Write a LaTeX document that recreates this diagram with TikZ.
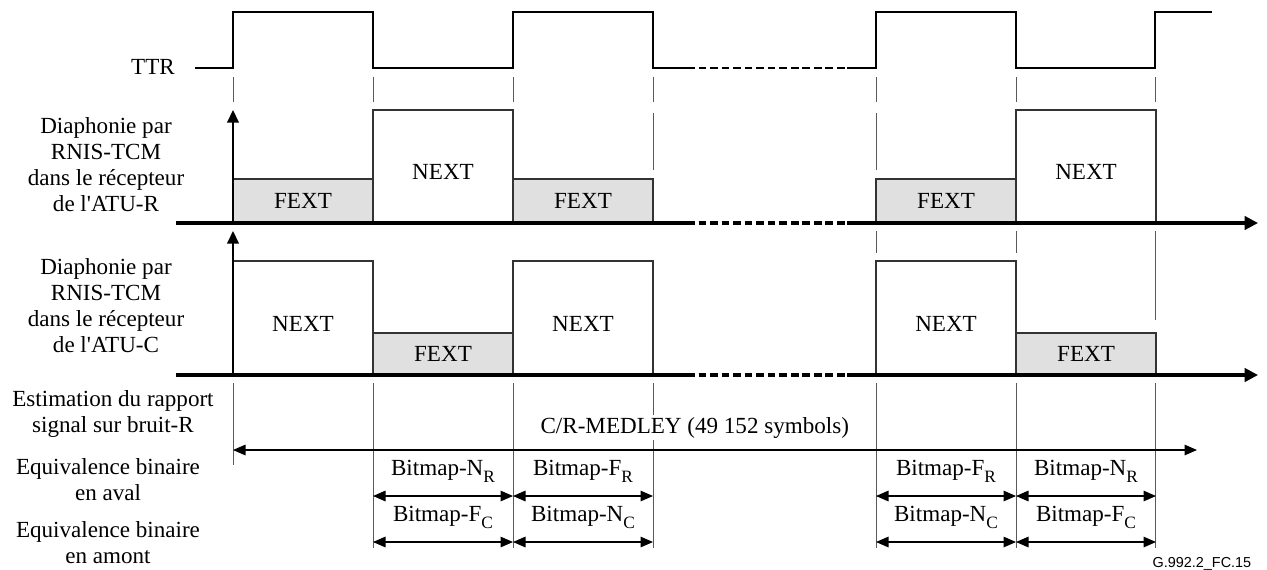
\documentclass[tikz,border=0pt]{standalone}
\usepackage{fontspec}
\setmainfont{Liberation Serif}
\newfontfamily\figidfont{Liberation Sans}
\usetikzlibrary{arrows.meta, positioning, calc}
\newlength{\px}
\setlength{\px}{0.52pt}
\newcommand{\bmsub}[1]{\raisebox{-3.5pt}{\fontsize{9pt}{9pt}\selectfont #1}}

\begin{document}
\begin{tikzpicture}[
		x=\px, y=-\px,
		every node/.style={font=\fontsize{12pt}{13.5pt}\selectfont},
		sidelabel/.style={align=center},
		fextbox/.style={draw=black!80, fill=black!12, line width=0.6pt, anchor=south west, inner sep=0pt, outer sep=0pt, minimum width=140\px, minimum height=44\px},
		nextbox/.style={draw=black!80, fill=white, line width=0.6pt, anchor=south west, inner sep=0pt, outer sep=0pt, minimum width=140\px, minimum height=114\px, text height=14pt, text depth=0pt},
		signal/.style={line width=0.75pt},
		axis/.style={line width=1.6pt},
		gap/.style={dash pattern=on 4pt off 2pt},
		guide/.style={black!65, line width=0.5pt},
		yarrow/.style={-{Triangle[length=6.5pt, width=6pt]}, line width=1pt},
		span/.style={{Triangle[length=6.5pt, width=5.5pt]}-{Triangle[length=6.5pt, width=5.5pt]}, line width=0.6pt},
		bmlabel/.style={midway, anchor=base, yshift=10.5pt}
		]
		\useasboundingbox (0,0) rectangle (1267,569);
		
		% Guides
		\draw[guide] (233,77) -- (233,102) (373,77) -- (373,102) (513,77) -- (513,102) (653,77) -- (653,102)
		(876,77) -- (876,102) (1016,77) -- (1016,102) (1155,77) -- (1155,102);
		\draw[guide] (653,113) -- (653,170) (876,113) -- (876,170);
		\draw[guide] (876,231) -- (876,253) (1016,231) -- (1016,253) (1155,231) -- (1155,320);
		\draw[guide] (233,383) -- (233,465) (373,383) -- (373,548) (513,383) -- (513,548) (653,383) -- (653,548)
		(876,383) -- (876,548) (1016,383) -- (1016,548) (1155,383) -- (1155,548);
		
		% TTR
		\node[sidelabel] (ttr) at (153,67) {TTR};
		\draw[signal] (195,68) -- (233,68) -- (233,12) -- (373,12) -- (373,68) -- (513,68) -- (513,12) -- (653,12) -- (653,68) -- (687,68);
		\draw[signal, gap] (687,68) -- (847,68);
		\draw[signal] (847,68) -- (876,68) -- (876,12) -- (1016,12) -- (1016,68) -- (1155,68) -- (1155,12) -- (1212,12);
		
		% Nodes
		\node[sidelabel] (xtalkr) at (106,165) {Diaphonie par\\RNIS-TCM\\dans le récepteur\\de l\textquotesingle ATU-R};
		\node[sidelabel] (xtalkc) at (106,306) {Diaphonie par\\RNIS-TCM\\dans le récepteur\\de l\textquotesingle ATU-C};
		\node[sidelabel] (snr) at (113,414) {Estimation du rapport\\signal sur bruit-R};
		\node[sidelabel] (bitdown) at (108,480) {Equivalence binaire\\en aval};
		\node[sidelabel] (bitup) at (108,543) {Equivalence binaire\\en amont};
		
		\node[fextbox] (rfext1) at (233,223) {FEXT};
		\node[nextbox, minimum height=113\px] (rnext1) at (373,223) {NEXT};
		\node[fextbox] (rfext2) at (513,223) {FEXT};
		\node[fextbox] (rfext3) at (876,223) {FEXT};
		\node[nextbox, minimum height=113\px] (rnext2) at (1016,223) {NEXT};
		
		\node[nextbox] (cnext1) at (233,375) {NEXT};
		\node[fextbox, minimum height=42\px] (cfext1) at (373,375) {FEXT};
		\node[nextbox] (cnext2) at (513,375) {NEXT};
		\node[nextbox] (cnext3) at (876,375) {NEXT};
		\node[fextbox, minimum height=42\px] (cfext2) at (1016,375) {FEXT};
		
		\node[font=\figidfont\fontsize{7.5pt}{9pt}\selectfont, anchor=base east] (figid) at (1258,567) {G.992.2\_FC.15};
		
		% Axes
		\coordinate (raxis) at (1258,223);
		\coordinate (caxis) at (1258,375);
		\coordinate (rtop) at (233,110);
		\coordinate (ctop) at (233,231);
		\draw[axis] (176,223) -- (687,223);
		\draw[axis, gap] (687,223) -- (847,223);
		\draw[axis, -{Triangle[length=7pt, width=7pt]}] (847,223) -- (raxis);
		\draw[axis] (176,375) -- (687,375);
		\draw[axis, gap] (687,375) -- (847,375);
		\draw[axis, -{Triangle[length=7pt, width=7pt]}] (847,375) -- (caxis);
		\draw[yarrow] (rfext1.south west) -- (rtop);
		\draw[yarrow] (cnext1.south west) -- (ctop);
		
		% Arrows
		\coordinate (medend) at (1197,450);
		\coordinate (row1) at (0,496);
		\coordinate (row2) at (0,542);
		\draw[span] (cnext1.south west |- medend) -- (medend)
		node[pos=0.479, anchor=base, yshift=8.8pt, fill=white, inner sep=1pt] (medley) {C/R-MEDLEY (49 152 symbols)};
		
		\draw[span] (rnext1.south west |- row1) -- node[bmlabel] {Bitmap-N\bmsub{R}} (rnext1.south east |- row1);
		\draw[span] (rfext2.south west |- row1) -- node[bmlabel] {Bitmap-F\bmsub{R}} (rfext2.south east |- row1);
		\draw[span] (rfext3.south west |- row1) -- node[bmlabel] {Bitmap-F\bmsub{R}} (rfext3.south east |- row1);
		\draw[span] (rnext2.south west |- row1) -- node[bmlabel] {Bitmap-N\bmsub{R}} (rnext2.south east |- row1);
		
		\draw[span] (rnext1.south west |- row2) -- node[bmlabel] {Bitmap-F\bmsub{C}} (rnext1.south east |- row2);
		\draw[span] (rfext2.south west |- row2) -- node[bmlabel] {Bitmap-N\bmsub{C}} (rfext2.south east |- row2);
		\draw[span] (rfext3.south west |- row2) -- node[bmlabel] {Bitmap-N\bmsub{C}} (rfext3.south east |- row2);
		\draw[span] (rnext2.south west |- row2) -- node[bmlabel] {Bitmap-F\bmsub{C}} (rnext2.south east |- row2);
		
	\end{tikzpicture}
\end{document}
